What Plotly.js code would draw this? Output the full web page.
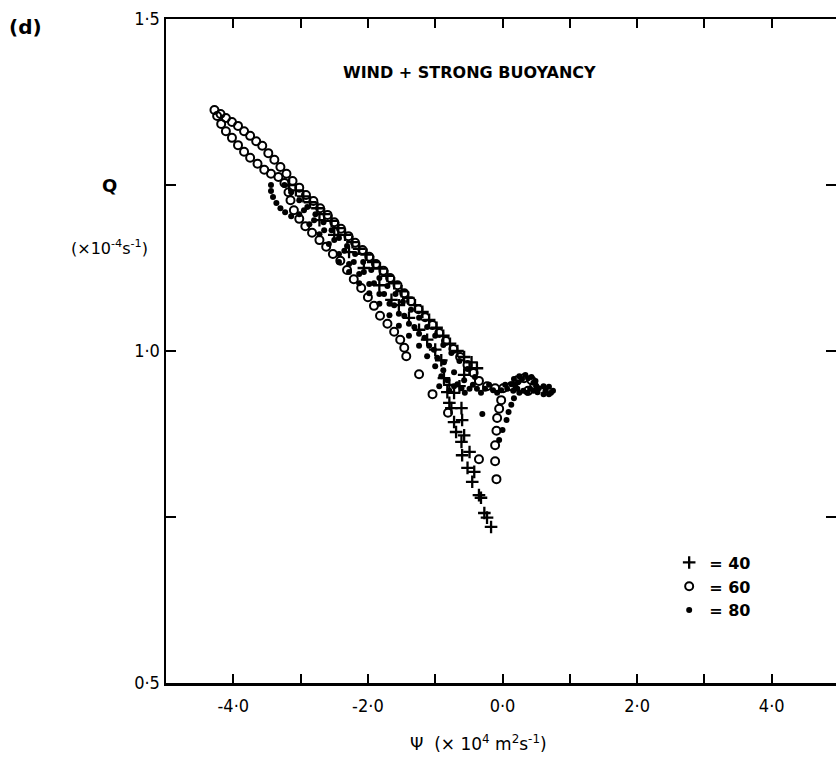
<!DOCTYPE html>
<html>
<head>
<meta charset="utf-8">
<script src="https://cdn.plot.ly/plotly-3.0.1.min.js"></script>
<style>html,body{margin:0;padding:0;background:#fff}#chart{width:836px;height:761px}</style>
</head>
<body>
<div id="chart"></div>
<script>
// Series "40" (plus markers)
const psi40 = [-3.17,-3.07,-2.96,-2.86,-2.75,-2.65,-2.54,-2.44,-2.34,-2.23,-2.13,-2.02,-1.92,-1.82,-1.71,-1.61,-1.50,-1.40,-1.30,-1.19,-1.09,-0.98,-0.88,-0.78,-0.67,-0.57,-0.46,-0.38,
  -1.54,-1.39,-1.24,-1.12,-1.00,-0.91,
  -2.72,-2.50,-2.28,-2.06,-1.83,-1.65,-0.49,-0.57,
  -0.87,-0.79,-0.82,-0.72,-0.64,
  -0.79,-0.76,-0.61,-0.72,-0.60,-0.69,-0.57,-0.61,-0.60,-0.49,-0.52,-0.42,-0.45,-0.35,-0.32,-0.27,-0.23,-0.17];
const q40 = [1.250,1.242,1.233,1.224,1.215,1.206,1.196,1.185,1.175,1.164,1.154,1.145,1.134,1.124,1.113,1.102,1.090,1.080,1.069,1.059,1.047,1.035,1.023,1.011,1.000,0.991,0.983,0.974,
  1.069,1.050,1.032,1.017,1.002,0.986,
  1.197,1.175,1.149,1.125,1.099,1.077,0.974,0.964,
  0.959,0.949,0.938,0.937,0.947,
  0.922,0.914,0.914,0.893,0.896,0.878,0.873,0.863,0.843,0.848,0.824,0.818,0.803,0.783,0.779,0.756,0.749,0.735];

// Series "60" (open circles)
const psi60 = [-4.28,-4.19,-4.11,-4.02,-3.93,-3.84,-3.75,-3.66,-3.57,-3.48,-3.39,-3.30,-3.21,-3.12,-3.02,-2.92,-2.81,-2.71,-2.60,-2.50,-2.40,-2.29,-2.19,-2.08,-1.98,-1.88,-1.77,-1.67,-1.56,-1.46,-1.36,-1.25,-1.15,-1.04,-0.94,-0.84,-0.73,-0.63,-0.52,-0.43,-0.35,-0.23,-0.11,0.01,
  0.13,0.22,0.32,0.43,0.47,0.38,
  -0.02,-0.05,-0.08,-0.09,-0.11,-0.11,-0.09,-0.35,
  -4.24,-4.18,-4.11,-4.02,-3.93,-3.84,-3.75,-3.64,-3.54,-3.44,-3.33,-3.24,-3.18,-3.15,-3.10,-3.02,-2.93,-2.83,-2.72,-2.62,-2.52,-2.41,-2.31,-2.21,-2.10,-2.00,-1.91,-1.82,-1.71,-1.61,-1.52,-1.46,-1.43,-1.24,-1.04,-0.81];
const q60 = [1.363,1.357,1.351,1.345,1.339,1.331,1.324,1.316,1.309,1.298,1.288,1.277,1.267,1.256,1.246,1.235,1.226,1.215,1.205,1.194,1.184,1.173,1.163,1.152,1.142,1.131,1.121,1.110,1.099,1.087,1.075,1.063,1.051,1.039,1.027,1.015,1.003,0.991,0.979,0.967,0.955,0.947,0.944,0.944,
  0.947,0.956,0.959,0.956,0.947,0.940,
  0.926,0.913,0.899,0.880,0.858,0.834,0.807,0.837,
  1.354,1.342,1.331,1.321,1.310,1.300,1.291,1.282,1.273,1.267,1.262,1.253,1.239,1.227,1.212,1.199,1.188,1.178,1.167,1.157,1.146,1.136,1.122,1.108,1.095,1.081,1.068,1.053,1.041,1.029,1.017,1.005,0.992,0.965,0.935,0.907];

// Series "80" (filled dots)
const psi80 = [-3.44,-3.44,-3.41,-3.36,-3.30,-3.23,-3.14,
  -3.24,-3.14,-3.02,-2.90,-2.78,-2.66,-2.54,-2.43,-2.31,-2.19,-2.07,-1.95,-1.83,-1.71,-1.59,-1.48,-1.36,-1.24,-1.12,-1.00,-0.88,-0.76,-0.64,-0.52,-0.41,
  -3.02,-2.87,-2.72,-2.58,-2.43,-2.28,-2.13,-1.98,-1.83,-1.68,-1.54,-1.39,-1.24,-1.09,-0.97,-0.88,-0.82,-0.72,
  -2.43,-2.28,-2.13,-1.98,-1.83,-1.68,-1.54,-1.39,-1.24,-1.12,-1.00,-0.91,
  -2.95,-2.80,-2.65,-2.50,-2.35,-2.21,-2.06,-1.91,-1.76,-1.61,-1.46,-1.31,-1.16,-1.02,-0.87,-0.72,-0.57,
  -0.61,-0.49,-0.38,-0.26,-0.14,-0.02,0.07,
  -0.94,-0.79,-0.67,-0.56,-0.44,-0.32,-0.20,-0.08,0.04,
  0.13,0.17,0.25,0.34,0.43,0.49,0.50,0.46,0.37,0.25,0.16,
  0.19,0.23,0.29,0.38,0.46,0.41,0.31,0.22,
  0.52,0.61,0.69,0.75,0.69,0.61,0.54,0.64,0.72,
  0.17,0.13,0.09,0.06,0.00,-0.05,-0.30];
const q80 = [1.250,1.241,1.232,1.223,1.215,1.209,1.203,
  1.250,1.239,1.227,1.217,1.206,1.194,1.182,1.170,1.158,1.146,1.134,1.122,1.110,1.098,1.086,1.074,1.062,1.050,1.036,1.023,1.009,0.997,0.985,0.973,0.961,
  1.206,1.191,1.176,1.161,1.146,1.131,1.116,1.101,1.086,1.071,1.056,1.041,1.026,1.008,0.990,0.971,0.956,0.947,
  1.134,1.119,1.102,1.087,1.071,1.054,1.038,1.023,1.008,0.992,0.977,0.962,
  1.212,1.197,1.182,1.167,1.151,1.134,1.119,1.102,1.086,1.069,1.053,1.036,1.020,1.002,0.983,0.968,0.956,
  0.944,0.943,0.943,0.943,0.941,0.941,0.943,
  0.947,0.940,0.950,0.937,0.949,0.937,0.949,0.937,0.949,
  0.950,0.958,0.962,0.964,0.961,0.955,0.947,0.940,0.937,0.937,0.940,
  0.947,0.953,0.958,0.959,0.952,0.943,0.940,0.943,
  0.938,0.935,0.935,0.940,0.946,0.947,0.944,0.941,0.937,
  0.929,0.919,0.908,0.896,0.881,0.866,0.905];

const xTickVals = [-4,-3,-2,-1,0,1,2,3,4];
const xTickText = ['-4·0','','-2·0','','0·0','','2·0','','4·0'];
const yTickVals = [0.5,0.75,1.0,1.25,1.5];
const yTickText = ['0·5','','1·0','','1·5'];
const seriesNames = ['= 40','= 60','= 80'];

const tickFont = {family:'"DejaVu Sans Condensed","DejaVu Sans",sans-serif', size:18, color:'#000'};
const textFont = {family:'"DejaVu Sans",sans-serif', size:16, color:'#000', weight:'bold'};

const traces = [
  {x:psi40, y:q40, name:seriesNames[0], type:'scatter', mode:'markers',
   marker:{symbol:'cross-thin', size:9, color:'#000', line:{color:'#000', width:2.3}}},
  {x:psi60, y:q60, name:seriesNames[1], type:'scatter', mode:'markers',
   marker:{symbol:'circle-open', size:8, color:'#000', line:{color:'#000', width:2}}},
  {x:psi80, y:q80, name:seriesNames[2], type:'scatter', mode:'markers',
   marker:{symbol:'circle', size:6, color:'#000'}}
];

const layout = {
  width:836, height:761,
  margin:{l:166, r:0, t:19, b:78},
  paper_bgcolor:'#fff', plot_bgcolor:'#fff',
  showlegend:true,
  legend:{x:0.751, y:0.207, xanchor:'left', yanchor:'top', font:textFont, bgcolor:'rgba(0,0,0,0)', tracegroupgap:0, itemwidth:30},
  xaxis:{range:[-5,4.955], showgrid:false, zeroline:false, showline:true, linecolor:'#000', linewidth:2.5, mirror:'ticks',
    ticks:'inside', ticklen:9, tickwidth:2, tickcolor:'#000', tickvals:xTickVals, ticktext:xTickText,
    tickfont:tickFont, ticklabelstandoff:5},
  yaxis:{range:[0.5,1.5], showgrid:false, zeroline:false, showline:true, linecolor:'#000', linewidth:2.5, mirror:'ticks',
    ticks:'inside', ticklen:10, tickwidth:2, tickcolor:'#000', tickvals:yTickVals, ticktext:yTickText,
    tickfont:tickFont},
  annotations:[
    {text:'(d)', xref:'paper', yref:'paper', x:-0.209, y:0.988, xanchor:'center', yanchor:'middle', showarrow:false, font:{family:'"DejaVu Sans",sans-serif', size:20, color:'#000', weight:'bold'}},
    {text:'WIND + STRONG BUOYANCY', xref:'paper', yref:'paper', x:0.4537, y:0.920, xanchor:'center', yanchor:'middle', showarrow:false, font:{family:'"DejaVu Sans",sans-serif', size:16, color:'#000', weight:'bold'}},
    {text:'Q', xref:'paper', yref:'paper', x:-0.0836, y:0.7485, xanchor:'center', yanchor:'middle', showarrow:false, font:{family:'"DejaVu Sans",sans-serif', size:18, color:'#000', weight:'bold'}},
    {text:'(×10<sup>-4</sup>s<sup>-1</sup>)', xref:'paper', yref:'paper', x:-0.085, y:0.6566, xanchor:'center', yanchor:'middle', showarrow:false, font:{family:'"DejaVu Sans",sans-serif', size:16, color:'#000'}},
    {text:'Ψ  (× 10<sup>4</sup> m<sup>2</sup>s<sup>-1</sup>)', xref:'paper', yref:'paper', x:0.4657, y:-0.0904, xanchor:'center', yanchor:'middle', showarrow:false, font:{family:'"DejaVu Sans",sans-serif', size:17, color:'#000'}}
  ]
};

Plotly.newPlot('chart', traces, layout, {displayModeBar:false, staticPlot:true});
</script>
</body>
</html>
